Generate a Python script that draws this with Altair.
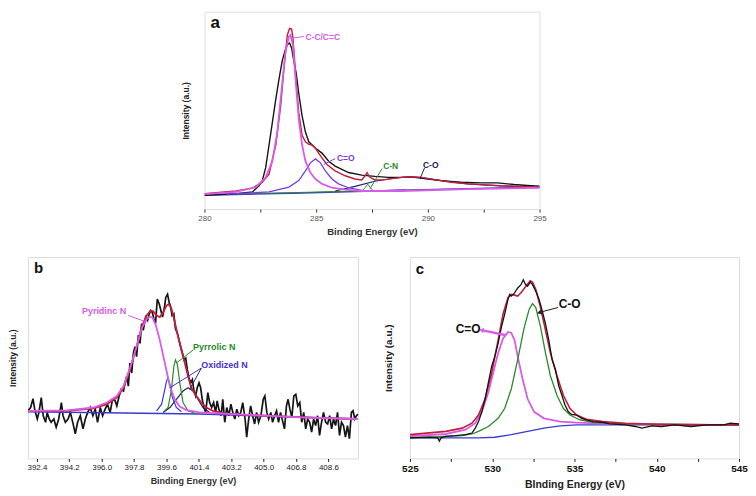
import altair as alt
import pandas as pd

FONT = "Liberation Sans"

# ---------------- Panel a (C 1s) ----------------
A_EXP_X = [280.00, 281.41, 282.15, 282.45, 282.59, 282.74, 282.89, 283.04, 283.19, 283.34, 283.48, 283.60, 283.71,
           283.81, 283.90, 284.00, 284.11, 284.22, 284.37, 284.52, 284.67, 284.97, 285.26, 285.56, 285.85, 286.45,
           287.04, 287.63, 288.23, 288.82, 289.41, 290.00, 290.60, 291.49, 292.38, 293.12, 293.86, 294.45, 295.00]
A_EXP_Y = [43, 48, 53, 73, 88, 128, 198, 268, 338, 403, 458, 488, 508,
           513, 498, 458, 418, 358, 288, 238, 208, 188, 173, 148, 133, 113,
           105, 101, 98, 98, 98, 93, 88, 83, 81, 81, 76, 73, 71]
A_FIT_X = [280.00, 281.41, 282.15, 282.59, 282.89, 283.19, 283.41, 283.56, 283.71, 283.81, 283.90, 283.96, 284.08,
           284.22, 284.37, 284.52, 284.67, 284.82, 284.97, 285.11, 285.26, 285.48, 285.85, 286.30, 286.74, 287.04,
           287.19, 287.28, 287.38, 287.63, 288.08, 288.82, 289.26, 289.71, 290.30, 291.04, 291.78, 292.52, 293.26,
           294.15, 295.00]
A_FIT_Y = [48, 56, 65, 83, 108, 198, 318, 438, 538, 558, 556, 528, 418,
           298, 228, 208, 200, 198, 188, 173, 158, 138, 118, 103, 93, 90,
           103, 113, 100, 90, 91, 98, 100, 98, 91, 83, 78, 75, 72,
           70, 68]
A_CC_X = [280.00, 281.41, 282.30, 282.74, 283.04, 283.26, 283.48, 283.63, 283.78, 283.85, 283.96, 284.08, 284.22,
          284.37, 284.52, 284.74, 284.97, 285.26, 285.71, 286.30, 287.04, 288.82, 291.78, 295.00]
A_CC_Y = [46, 53, 68, 98, 148, 238, 388, 488, 533, 538, 508, 398, 278,
          198, 148, 113, 93, 78, 66, 60, 56, 56, 62, 66]
A_CO1_X = [281.00, 282.89, 283.78, 284.22, 284.52, 284.74, 284.97, 285.19, 285.41, 285.71, 286.00, 286.45, 287.04,
           287.63, 289.00]
A_CO1_Y = [46, 53, 68, 88, 118, 143, 155, 143, 118, 93, 78, 66, 58, 56, 59]
A_CN_X = [281.00, 287.04, 287.19, 287.31, 287.43, 287.56, 290.00]
A_CN_Y = [46, 56, 66, 77, 66, 56, 59]
A_CO2_X = [285.85, 286.74, 287.63, 288.52, 289.12, 289.71, 290.60, 291.78, 293.26, 295.00]
A_CO2_Y = [56, 70, 86, 96, 100, 97, 88, 78, 72, 68]
A_BG_X = [280.00, 284.37, 288.82, 295.00]
A_BG_Y = [43, 50, 58, 68]

A_LABELS = ["C-C/C=C", "C=O", "C-N", "C-O"]
A_LABEL_X = [284.52, 285.93, 288.00, 289.78]
A_LABEL_Y = [533, 158, 133, 135]
A_LABEL_C = ["#d85ce6", "#7a3ce6", "#2a8a2a", "#20205a"]
A_LEAD_X = [283.85, 285.34, 287.41, 289.66]
A_LEAD_Y = [528, 138, 63, 96]
A_LEAD_X2 = [284.45, 285.85, 287.95, 289.85]
A_LEAD_Y2 = [533, 156, 125, 127]

# ---------------- Panel b (N 1s) ----------------
B_EXP_X = [391.90, 392.05, 392.18, 392.29, 392.42, 392.51, 392.64, 392.75, 392.88, 392.97, 393.08, 393.19, 393.34,
           393.47, 393.61, 393.76, 393.85, 393.98, 394.13, 394.26, 394.41, 394.53, 394.66, 394.81, 394.96, 395.09,
           395.22, 395.36, 395.51, 395.64, 395.77, 395.92, 396.05, 396.19, 396.32, 396.47, 396.60, 396.75, 396.84,
           396.97, 397.08, 397.21, 397.30, 397.39, 397.48, 397.57, 397.67, 397.76, 397.85, 397.94, 398.04, 398.13,
           398.22, 398.31, 398.44, 398.55, 398.62, 398.72, 398.81, 398.90, 398.99, 399.09, 399.20, 399.29, 399.38,
           399.49, 399.56, 399.66, 399.75, 399.84, 399.91, 400.01, 400.10, 400.21, 400.30, 400.39, 400.49, 400.58,
           400.67, 400.76, 400.85, 400.95, 401.04, 401.13, 401.22, 401.31, 401.41, 401.50, 401.59, 401.68, 401.78,
           401.90, 402.00, 402.11, 402.22, 402.33, 402.42, 402.51, 402.64, 402.73, 402.84, 402.95, 403.07, 403.18,
           403.29, 403.40, 403.51, 403.62, 403.73, 403.84, 403.97, 404.06, 404.17, 404.28, 404.39, 404.50, 404.61,
           404.72, 404.85, 404.98, 405.07, 405.18, 405.28, 405.40, 405.50, 405.61, 405.72, 405.83, 405.94, 406.05,
           406.16, 406.27, 406.36, 406.46, 406.57, 406.68, 406.79, 406.90, 407.01, 407.12, 407.23, 407.34, 407.45,
           407.56, 407.67, 407.78, 407.89, 408.00, 408.11, 408.22, 408.33, 408.45, 408.56, 408.67, 408.78, 408.89,
           409.00, 409.11, 409.22, 409.33, 409.44, 409.55, 409.66, 409.77, 409.88, 409.97, 410.07, 410.16, 410.25]
B_EXP_Y = [145, 155, 182, 145, 120, 140, 185, 130, 110, 140, 120, 110, 120,
           95, 120, 170, 130, 110, 120, 140, 105, 75, 110, 130, 90, 120,
           140, 155, 130, 150, 110, 155, 130, 150, 165, 140, 180, 175, 160,
           190, 210, 205, 230, 250, 220, 290, 260, 320, 340, 310, 375, 350,
           410, 390, 430, 420, 435, 450, 445, 425, 410, 485, 470, 450, 430,
           460, 490, 500, 475, 460, 435, 440, 395, 380, 360, 340, 320, 300,
           305, 270, 245, 230, 240, 205, 190, 215, 230, 215, 180, 155, 140,
           200, 170, 155, 170, 140, 175, 150, 130, 180, 110, 155, 130, 165,
           140, 120, 150, 130, 140, 170, 120, 65, 120, 160, 130, 105, 140,
           110, 130, 180, 190, 140, 120, 140, 110, 130, 145, 110, 140, 115,
           90, 160, 180, 150, 125, 190, 195, 160, 170, 110, 140, 90, 120,
           110, 80, 120, 100, 130, 70, 110, 140, 110, 105, 130, 90, 120,
           100, 140, 70, 110, 100, 65, 100, 60, 140, 145, 120, 130, 135]
B_FIT_X = [391.90, 394.07, 395.55, 396.29, 396.84, 397.21, 397.57, 397.94, 398.22, 398.50, 398.72, 398.86, 399.05,
           399.23, 399.42, 399.60, 399.73, 399.88, 400.06, 400.25, 400.43, 400.62, 400.80, 400.98, 401.26, 401.54,
           401.81, 402.18, 402.73, 403.66, 405.13, 406.97, 408.81, 410.25]
B_FIT_Y = [145, 145, 152, 165, 185, 215, 270, 340, 400, 435, 450, 448, 435,
           430, 445, 465, 470, 455, 415, 370, 330, 290, 250, 215, 190, 170,
           155, 145, 138, 133, 130, 126, 122, 120]
B_PYD_X = [391.90, 394.07, 395.55, 396.29, 396.84, 397.21, 397.57, 397.94, 398.22, 398.50, 398.68, 398.83, 399.01,
           399.23, 399.51, 399.79, 400.06, 400.34, 400.71, 401.44, 403.29, 405.13, 406.97, 410.25]
B_PYD_Y = [145, 146, 155, 170, 190, 220, 275, 340, 395, 425, 432, 428, 405,
           360, 290, 220, 180, 158, 147, 140, 135, 130, 125, 120]
B_OX1_X = [399.05, 399.33, 399.51, 399.60, 399.69, 399.79, 399.93, 400.15, 400.43]
B_OX1_Y = [145, 165, 210, 235, 245, 225, 185, 155, 142]
B_PYR_X = [399.42, 399.69, 399.88, 400.01, 400.10, 400.21, 400.34, 400.52, 400.80, 401.26]
B_PYR_Y = [140, 155, 210, 280, 300, 285, 230, 170, 145, 136]
B_OX2_X = [399.42, 399.79, 400.15, 400.52, 400.80, 401.08, 401.35, 401.63, 402.00]
B_OX2_Y = [140, 155, 180, 205, 215, 205, 180, 155, 140]
B_BG_X = [391.90, 401.44, 410.25]
B_BG_Y = [142, 135, 120]

B_LABELS = ["Pyridinc N", "Pyrrolic N", "Oxidized N"]
B_LABEL_X = [394.90, 401.08, 401.54]
B_LABEL_Y = [450, 340, 285]
B_LABEL_C = ["#d85ce6", "#2a8a2a", "#4b2fd6"]
B_LEAD_X = [397.48, 401.08, 401.54, 401.54]
B_LEAD_Y = [435, 330, 275, 275]
B_LEAD_X2 = [398.50, 400.19, 399.79, 400.89]
B_LEAD_Y2 = [415, 292, 215, 210]
B_LEAD_C = ["#d85ce6", "#2a8a2a", "#4b2fd6", "#2a2a80"]

# ---------------- Panel c (O 1s) ----------------
C_EXP_X = [525.00, 526.19, 526.69, 526.79, 526.89, 527.18, 527.78, 528.38, 528.77, 528.97, 529.17, 529.37, 529.57,
           529.77, 529.97, 530.16, 530.36, 530.56, 530.76, 530.96, 531.06, 531.16, 531.36, 531.55, 531.75, 531.89,
           532.01, 532.15, 532.31, 532.45, 532.65, 532.85, 533.04, 533.24, 533.44, 533.64, 533.84, 534.04, 534.24,
           534.43, 534.63, 534.83, 535.13, 535.43, 535.73, 536.12, 536.72, 537.12, 538.11, 538.70, 539.10, 539.70,
           540.29, 541.09, 542.08, 543.07, 544.07, 544.46, 545.00]
C_EXP_Y = [63, 65, 63, 53, 63, 68, 70, 73, 78, 93, 113, 143, 183,
           233, 283, 313, 353, 403, 443, 488, 503, 498, 508, 523, 533, 548,
           535, 528, 541, 533, 513, 488, 453, 413, 363, 303, 273, 223, 193,
           163, 143, 135, 133, 123, 118, 113, 111, 106, 103, 98, 93, 100,
           98, 103, 98, 103, 103, 108, 106]
C_FIT_X = [525.00, 527.18, 528.18, 528.77, 529.17, 529.57, 529.97, 530.36, 530.66, 530.96, 531.16, 531.36, 531.55,
           531.75, 532.05, 532.31, 532.45, 532.65, 532.94, 533.24, 533.54, 533.94, 534.33, 534.73, 535.13, 535.73,
           536.72, 538.11, 540.09, 543.07, 545.00]
C_FIT_Y = [73, 83, 93, 108, 133, 183, 263, 363, 443, 493, 503, 501, 498,
           508, 528, 545, 541, 518, 463, 393, 323, 253, 193, 153, 133, 120,
           113, 108, 105, 103, 103]
C_CO1_X = [525.00, 527.18, 528.38, 528.97, 529.37, 529.77, 530.06, 530.36, 530.66, 530.96, 531.16, 531.36, 531.55,
           531.85, 532.15, 532.55, 533.14, 534.14, 535.13, 537.12, 540.09, 545.00]
C_CO1_Y = [68, 75, 88, 108, 143, 203, 263, 323, 368, 388, 385, 363, 313,
           243, 183, 143, 123, 113, 110, 106, 104, 103]
C_CO2_X = [525.00, 528.18, 528.77, 529.17, 529.77, 530.36, 530.76, 531.16, 531.55, 531.95, 532.25, 532.45, 532.65,
           532.94, 533.24, 533.54, 533.94, 534.33, 534.73, 535.33, 536.12, 538.11, 545.00]
C_CO2_Y = [63, 70, 75, 83, 98, 123, 153, 213, 303, 403, 458, 475, 463,
           403, 323, 253, 193, 153, 133, 118, 111, 106, 103]
C_BG_X = [525.00, 529.17, 530.16, 531.16, 532.15, 533.14, 534.14, 535.13, 537.12, 545.00]
C_BG_Y = [63, 63, 65, 73, 83, 93, 100, 103, 103, 103]

C_LABELS = ["C-O", "C=O"]
C_LABEL_X = [534.04, 527.78]
C_LABEL_Y = [473, 398]
C_LEAD_X = [534.00, 530.86]
C_LEAD_Y = [463, 378]
C_LEAD_X2 = [532.95, 529.50]
C_LEAD_Y2 = [449, 392]
C_LEAD_C = ["#222222", "#d85ce6"]
C_LEAD_W = [1.0, 2.5]
C_HEAD_X = [532.90, 529.40]
C_HEAD_Y = [448, 393]
C_HEAD_ANGLE = [256, 281]
C_HEAD_C = ["#222222", "#d85ce6"]

BLACK = "#151515"
RED = "#c41e3a"
MAGENTA = "#d85ce6"
PURPLE = "#7a3ce6"
GREEN = "#2a8a2a"
BLUE = "#3a3ad0"
NAVY = "#22226a"


def xenc(dom, axis):
    return alt.X("x:Q", scale=alt.Scale(domain=dom, nice=False, zero=False), axis=axis)


def yenc(dom, axis):
    return alt.Y("y:Q", scale=alt.Scale(domain=dom, nice=False, zero=False), axis=axis)


def make_panel(lines, texts, leads, heads, letter, xdom, ydom, xaxis, yaxis, width, height, text_size):
    layers = []
    for xs, ys, color, w in lines:
        df = pd.DataFrame({"x": xs, "y": ys})
        layers.append(
            alt.Chart(df).mark_line(color=color, strokeWidth=w, clip=True)
            .encode(x=xenc(xdom, xaxis), y=yenc(ydom, yaxis))
        )
    lx, ly, lx2, ly2, lc, lw = leads
    df = pd.DataFrame({"x": lx, "y": ly, "x2": lx2, "y2": ly2, "c": lc, "w": lw})
    layers.append(
        alt.Chart(df).mark_rule().encode(
            x=xenc(xdom, xaxis), y=yenc(ydom, yaxis), x2="x2:Q", y2="y2:Q",
            color=alt.Color("c:N", scale=None), strokeWidth=alt.StrokeWidth("w:Q", scale=None))
    )
    if heads is not None:
        hx, hy, ha, hc = heads
        df = pd.DataFrame({"x": hx, "y": hy, "a": ha, "c": hc})
        layers.append(
            alt.Chart(df).mark_point(shape="triangle", filled=True, size=28, opacity=1).encode(
                x=xenc(xdom, xaxis), y=yenc(ydom, yaxis), angle=alt.Angle("a:Q", scale=None),
                color=alt.Color("c:N", scale=None))
        )
    tx, ty, tt, tc = texts
    df = pd.DataFrame({"x": tx, "y": ty, "t": tt, "c": tc})
    layers.append(
        alt.Chart(df).mark_text(align="left", baseline="middle", font=FONT, fontWeight="bold",
                                fontSize=text_size).encode(
            x=xenc(xdom, xaxis), y=yenc(ydom, yaxis), text="t:N", color=alt.Color("c:N", scale=None))
    )
    lt, lxx, lyy, lsize = letter
    df = pd.DataFrame({"x": [lxx], "y": [lyy], "t": [lt]})
    layers.append(
        alt.Chart(df).mark_text(align="left", baseline="middle", font=FONT, fontWeight="bold",
                                fontSize=lsize, color="#111111").encode(
            x=xenc(xdom, xaxis), y=yenc(ydom, yaxis), text="t:N")
    )
    return alt.layer(*layers).properties(width=width, height=height)


def y_axis(size, pad):
    return alt.Axis(title="Intensity (a.u.)", labels=False, ticks=False, domain=False, grid=False,
                    minExtent=0, titleFont=FONT, titleFontWeight="bold", titleFontSize=size,
                    titleColor="#222222", titlePadding=pad)


A_TICKS = [280, 282.5, 285, 287.5, 290, 292.5, 295]
a_xaxis = alt.Axis(title="Binding Energy (eV)", values=A_TICKS, format="d",
                   labelExpr="datum.value % 5 == 0 ? datum.label : ''", labelFlush=False, labelOverlap=False,
                   grid=False, domain=False, tickSize=3, tickColor="#333333", labelFont=FONT, labelFontSize=8,
                   labelColor="#555555", labelPadding=2, titleFont=FONT, titleFontWeight="bold",
                   titleFontSize=9.5, titleColor="#333333", titlePadding=4)
panel_a = make_panel(
    [(A_BG_X, A_BG_Y, BLUE, 1.5), (A_CN_X, A_CN_Y, GREEN, 1.0), (A_EXP_X, A_EXP_Y, BLACK, 1.4),
     (A_CO2_X, A_CO2_Y, NAVY, 1.2), (A_CO1_X, A_CO1_Y, PURPLE, 1.3), (A_FIT_X, A_FIT_Y, RED, 1.4),
     (A_CC_X, A_CC_Y, MAGENTA, 1.8)],
    (A_LABEL_X, A_LABEL_Y, A_LABELS, A_LABEL_C),
    (A_LEAD_X, A_LEAD_Y, A_LEAD_X2, A_LEAD_Y2, A_LABEL_C, [1.0] * 4),
    None,
    ("a", 280.27, 574, 17),
    [280, 295], [0, 610], a_xaxis, y_axis(8.5, 14), 336, 198, 8.5)

B_TICKS = [392.4, 394.2, 396.0, 397.8, 399.6, 401.4, 403.2, 405.0, 406.8, 408.6]
b_xaxis = alt.Axis(title="Binding Energy (eV)", values=B_TICKS, format=".1f", labelFlush=False,
                   labelOverlap=False, grid=False, domain=False, tickSize=3, tickColor="#222222",
                   labelFont=FONT, labelFontSize=8, labelColor="#222222", labelPadding=2, titleFont=FONT,
                   titleFontWeight="bold", titleFontSize=9, titleColor="#333333", titlePadding=5)
panel_b = make_panel(
    [(B_EXP_X, B_EXP_Y, BLACK, 1.7), (B_BG_X, B_BG_Y, BLUE, 1.5), (B_OX2_X, B_OX2_Y, NAVY, 1.2),
     (B_OX1_X, B_OX1_Y, BLUE, 1.2), (B_PYR_X, B_PYR_Y, GREEN, 1.2), (B_FIT_X, B_FIT_Y, RED, 1.8),
     (B_PYD_X, B_PYD_Y, MAGENTA, 1.8)],
    (B_LABEL_X, B_LABEL_Y, B_LABELS, B_LABEL_C[:3]),
    (B_LEAD_X, B_LEAD_Y, B_LEAD_X2, B_LEAD_Y2, B_LEAD_C, [1.0] * 4),
    None,
    ("b", 392.23, 580, 15),
    [391.9, 410.25], [0, 613], b_xaxis, y_axis(8.5, 10), 331, 202, 9)

C_TICKS = [525, 527.5, 530, 532.5, 535, 537.5, 540, 542.5, 545]
c_xaxis = alt.Axis(title="BInding Energy (eV)", values=C_TICKS, format="d",
                   labelExpr="datum.value % 5 == 0 ? datum.label : ''", labelFlush=False, labelOverlap=False,
                   grid=False, domain=False, tickSize=3, tickColor="#222222", labelFont=FONT, labelFontSize=10,
                   labelFontWeight="bold", labelColor="#111111", labelPadding=2, titleFont=FONT,
                   titleFontWeight="bold", titleFontSize=10.5, titleColor="#222222", titlePadding=6)
panel_c = make_panel(
    [(C_BG_X, C_BG_Y, BLUE, 1.4), (C_CO1_X, C_CO1_Y, MAGENTA, 1.8), (C_CO2_X, C_CO2_Y, GREEN, 1.3),
     (C_FIT_X, C_FIT_Y, RED, 1.6), (C_EXP_X, C_EXP_Y, BLACK, 1.3)],
    (C_LABEL_X, C_LABEL_Y, C_LABELS, ["#111111", "#111111"]),
    (C_LEAD_X, C_LEAD_Y, C_LEAD_X2, C_LEAD_Y2, C_LEAD_C, C_LEAD_W),
    (C_HEAD_X, C_HEAD_Y, C_HEAD_ANGLE, C_HEAD_C),
    ("c", 525.36, 582, 15),
    [525, 545], [0, 618], c_xaxis, y_axis(10, 16), 330, 202, 12)

spacer = alt.Chart(pd.DataFrame({"v": [0]})).mark_point(opacity=0).encode(
    x=alt.value(0), y=alt.value(0)).properties(width=153, height=10, view=alt.ViewBackground(stroke=None))

top = alt.hconcat(spacer, panel_a, spacing=0)
bottom = alt.hconcat(panel_b, panel_c, spacing=24)

chart = alt.vconcat(top, bottom, spacing=20).properties(padding=0).configure_view(
    stroke="#1a1a1a", strokeWidth=1.3).configure(background="white")

chart.save("out.html", embed_options={"renderer": "svg", "actions": False})
